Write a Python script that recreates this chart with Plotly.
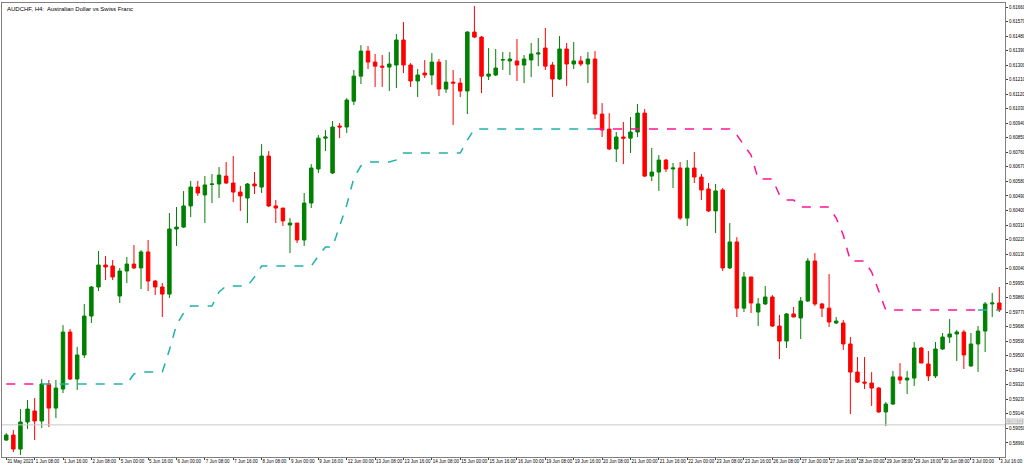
import plotly.graph_objects as go

# AUDCHF H4 bars
open_ = [0.58978, 0.59009, 0.58922, 0.59090, 0.59158, 0.59096, 0.59325, 0.59176, 0.59294, 0.59647,
         0.59356, 0.59505, 0.59746, 0.59926, 0.60062, 0.60056, 0.59870, 0.60025, 0.60068, 0.60044,
         0.60143, 0.59963, 0.59926, 0.59882, 0.60285, 0.60297, 0.60428, 0.60545, 0.60496, 0.60561,
         0.60564, 0.60613, 0.60570, 0.60514, 0.60477, 0.60564, 0.60545, 0.60737, 0.60428, 0.60415,
         0.60310, 0.60322, 0.60217, 0.60446, 0.60657, 0.60848, 0.60632, 0.60923, 0.60917, 0.61077,
         0.61232, 0.61387, 0.61319, 0.61294, 0.61288, 0.61301, 0.61456, 0.61301, 0.61202, 0.61251,
         0.61239, 0.61319, 0.61152, 0.61195, 0.61189, 0.61140, 0.61505, 0.61474, 0.61232, 0.61239,
         0.61332, 0.61326, 0.61326, 0.61301, 0.61332, 0.61369, 0.61406, 0.61301, 0.61214, 0.61400,
         0.61307, 0.61326, 0.61307, 0.61338, 0.60997, 0.60904, 0.60781, 0.60855, 0.60848, 0.60886,
         0.61003, 0.60613, 0.60638, 0.60712, 0.60657, 0.60663, 0.60353, 0.60663, 0.60607, 0.60533,
         0.60397, 0.60527, 0.60044, 0.60205, 0.59795, 0.59988, 0.59771, 0.59821, 0.59864, 0.59684,
         0.59591, 0.59759, 0.59734, 0.59839, 0.60087, 0.59821, 0.59795, 0.59703, 0.59703, 0.59573,
         0.59399, 0.59337, 0.59331, 0.59300, 0.59152, 0.59201, 0.59369, 0.59350, 0.59362, 0.59548,
         0.59449, 0.59375, 0.59542, 0.59616, 0.59635, 0.59647, 0.59437, 0.59573, 0.59653, 0.59821,
         0.59827]
high = [0.59021, 0.59040, 0.59170, 0.59226, 0.59238, 0.59356, 0.59350, 0.59350, 0.59690, 0.59666,
        0.59555, 0.59821, 0.59932, 0.60149, 0.60118, 0.60093, 0.60044, 0.60112, 0.60186, 0.60155,
        0.60217, 0.59969, 0.59951, 0.60384, 0.60421, 0.60520, 0.60583, 0.60583, 0.60613, 0.60625,
        0.60669, 0.60700, 0.60737, 0.60552, 0.60570, 0.60638, 0.60811, 0.60768, 0.60465, 0.60415,
        0.60353, 0.60322, 0.60508, 0.60687, 0.60867, 0.60898, 0.60954, 0.60941, 0.61096, 0.61270,
        0.61424, 0.61418, 0.61369, 0.61363, 0.61381, 0.61493, 0.61567, 0.61313, 0.61276, 0.61332,
        0.61375, 0.61338, 0.61332, 0.61270, 0.61220, 0.61511, 0.61666, 0.61480, 0.61406, 0.61400,
        0.61381, 0.61381, 0.61462, 0.61363, 0.61437, 0.61468, 0.61530, 0.61319, 0.61480, 0.61437,
        0.61443, 0.61356, 0.61381, 0.61387, 0.61065, 0.61003, 0.60886, 0.60948, 0.60979, 0.61059,
        0.61028, 0.60787, 0.60743, 0.60719, 0.60694, 0.60700, 0.60712, 0.60762, 0.60626, 0.60570,
        0.60564, 0.60539, 0.60322, 0.60235, 0.60019, 0.59988, 0.59858, 0.59932, 0.59876, 0.59753,
        0.59765, 0.59802, 0.59864, 0.60105, 0.60136, 0.59827, 0.60006, 0.59740, 0.59722, 0.59616,
        0.59492, 0.59492, 0.59399, 0.59307, 0.59214, 0.59406, 0.59455, 0.59406, 0.59585, 0.59555,
        0.59529, 0.59585, 0.59641, 0.59728, 0.59660, 0.59660, 0.59641, 0.59684, 0.59833, 0.59889,
        0.59926]
low = [0.58972, 0.58903, 0.58885, 0.59047, 0.58978, 0.59053, 0.59059, 0.59114, 0.59269, 0.59350,
       0.59288, 0.59486, 0.59703, 0.59901, 0.59969, 0.59969, 0.59827, 0.59950, 0.60037, 0.59913,
       0.59901, 0.59876, 0.59740, 0.59858, 0.60180, 0.60291, 0.60359, 0.60490, 0.60322, 0.60446,
       0.60477, 0.60564, 0.60452, 0.60397, 0.60322, 0.60502, 0.60508, 0.60421, 0.60322, 0.60304,
       0.60136, 0.60198, 0.60180, 0.60415, 0.60632, 0.60768, 0.60626, 0.60848, 0.60880, 0.61053,
       0.61183, 0.61276, 0.61165, 0.61165, 0.61140, 0.61158, 0.61251, 0.61165, 0.61103, 0.61220,
       0.61177, 0.61109, 0.61128, 0.60929, 0.61103, 0.60997, 0.61468, 0.61127, 0.61208, 0.61232,
       0.61270, 0.61239, 0.61202, 0.61189, 0.61226, 0.61294, 0.61270, 0.61103, 0.61208, 0.61171,
       0.61276, 0.61294, 0.61189, 0.60966, 0.60855, 0.60774, 0.60700, 0.60687, 0.60756, 0.60855,
       0.60607, 0.60582, 0.60521, 0.60638, 0.60539, 0.60341, 0.60304, 0.60570, 0.60465, 0.60390,
       0.60260, 0.60025, 0.60037, 0.59740, 0.59771, 0.59765, 0.59684, 0.59814, 0.59678, 0.59480,
       0.59548, 0.59740, 0.59604, 0.59833, 0.59808, 0.59740, 0.59678, 0.59697, 0.59536, 0.59139,
       0.59331, 0.59294, 0.59189, 0.59146, 0.59065, 0.59195, 0.59325, 0.59263, 0.59313, 0.59455,
       0.59344, 0.59362, 0.59536, 0.59579, 0.59468, 0.59418, 0.59431, 0.59400, 0.59523, 0.59740,
       0.59771]
close = [0.59009, 0.58922, 0.59090, 0.59170, 0.59096, 0.59325, 0.59176, 0.59300, 0.59647, 0.59356,
         0.59505, 0.59746, 0.59926, 0.60062, 0.60050, 0.59988, 0.60025, 0.60068, 0.60044, 0.60143,
         0.59963, 0.59926, 0.59882, 0.60285, 0.60297, 0.60428, 0.60545, 0.60508, 0.60558, 0.60564,
         0.60619, 0.60570, 0.60514, 0.60490, 0.60564, 0.60552, 0.60737, 0.60428, 0.60415, 0.60335,
         0.60322, 0.60217, 0.60446, 0.60663, 0.60848, 0.60855, 0.60917, 0.60917, 0.61084, 0.61232,
         0.61387, 0.61319, 0.61294, 0.61288, 0.61307, 0.61456, 0.61301, 0.61202, 0.61239, 0.61239,
         0.61319, 0.61152, 0.61195, 0.61189, 0.61140, 0.61505, 0.61474, 0.61232, 0.61245, 0.61282,
         0.61334, 0.61338, 0.61301, 0.61338, 0.61369, 0.61375, 0.61294, 0.61214, 0.61400, 0.61307,
         0.61326, 0.61307, 0.61338, 0.60997, 0.60898, 0.60781, 0.60855, 0.60848, 0.60886, 0.61003,
         0.60613, 0.60638, 0.60712, 0.60657, 0.60663, 0.60353, 0.60663, 0.60607, 0.60527, 0.60397,
         0.60521, 0.60044, 0.60205, 0.59795, 0.59988, 0.59827, 0.59821, 0.59864, 0.59684, 0.59591,
         0.59759, 0.59740, 0.59839, 0.60087, 0.59821, 0.59795, 0.59709, 0.59715, 0.59573, 0.59399,
         0.59337, 0.59331, 0.59300, 0.59152, 0.59201, 0.59369, 0.59350, 0.59362, 0.59548, 0.59455,
         0.59375, 0.59542, 0.59616, 0.59635, 0.59647, 0.59505, 0.59573, 0.59653, 0.59821, 0.59827,
         0.59784]

# trend-stop indicator: up (teal) and down (pink) sections
trend_up = ([None] * 5 + [0.59325] * 13 + [0.59387] + [0.59399] * 4 + [0.59536, 0.59691, 0.59765]
            + [0.59808] * 4 + [0.59895] + [0.59932] * 4 + [0.59988] + [0.60056] * 8 + [0.60118]
            + [0.60174] * 2 + [0.60310, 0.60434, 0.60601, 0.60676] + [0.60700] * 4 + [0.60713]
            + [0.60756] * 9 + [0.60836] + [0.60904] * 18 + [None] * 53 + [0.59783] * 4)
trend_down = ([0.59325] * 6 + [None] * 77 + [0.60904] * 20 + [0.60867, 0.60805, 0.60743]
              + [0.60595] * 3 + [0.60496] + [0.60465] * 2 + [0.60422] * 5 + [0.60353, 0.60248]
              + [0.60087] * 3 + [0.60019, 0.59907] + [0.59783] * 14 + [None] * 3)

bid_line = 0.59072

tick_idx = list(range(0, 141, 4))
tick_text = ["31 May 2023", "1 Jun 08:00", "1 Jun 16:00", "2 Jun 08:00", "5 Jun 00:00", "5 Jun 16:00",
             "6 Jun 00:00", "7 Jun 08:00", "7 Jun 16:00", "8 Jun 08:00", "9 Jun 00:00", "9 Jun 16:00",
             "12 Jun 00:00", "13 Jun 08:00", "13 Jun 16:00", "14 Jun 08:00", "15 Jun 00:00", "15 Jun 16:00",
             "16 Jun 00:00", "19 Jun 08:00", "19 Jun 16:00", "20 Jun 08:00", "21 Jun 00:00", "21 Jun 16:00",
             "22 Jun 00:00", "23 Jun 08:00", "23 Jun 16:00", "26 Jun 08:00", "27 Jun 00:00", "27 Jun 16:00",
             "28 Jun 00:00", "29 Jun 08:00", "29 Jun 16:00", "30 Jun 08:00", "3 Jul 00:00", "3 Jul 16:00"]
price_ticks = [round(0.58960 + 0.0009 * k, 5) for k in range(31)]

x = list(range(len(close)))

fig = go.Figure()
fig.add_trace(go.Candlestick(
    x=x, open=open_, high=high, low=low, close=close,
    increasing=dict(line=dict(color="#008000", width=1), fillcolor="#008000"),
    decreasing=dict(line=dict(color="#ff0000", width=1), fillcolor="#ff0000"),
    whiskerwidth=0, showlegend=False))
fig.add_trace(go.Scatter(x=x, y=trend_up, mode="lines", connectgaps=False,
                         line=dict(color="#20b2aa", width=1.5, dash="dash"), showlegend=False))
fig.add_trace(go.Scatter(x=x, y=trend_down, mode="lines", connectgaps=False,
                         line=dict(color="#ff1493", width=1.5, dash="dash"), showlegend=False))

fig.add_hline(y=bid_line, line=dict(color="#c8c8c8", width=1))
fig.add_annotation(x=1.0, xref="paper", y=bid_line, yref="y", xanchor="left", yanchor="bottom",
                   text="0.59072", showarrow=False, bgcolor="#c0c0c0",
                   font=dict(size=4.5, color="white"), borderpad=0)
fig.add_annotation(x=0.003, xref="paper", y=0.997, yref="paper", xanchor="left", yanchor="top",
                   text="AUDCHF, H4:  Australian Dollar vs Swiss Franc", showarrow=False,
                   font=dict(size=6, color="#000000", family="Liberation Sans"))

fig.update_layout(
    width=1024, height=469,
    margin=dict(l=2, r=19, t=3, b=12, autoexpand=False),
    plot_bgcolor="white", paper_bgcolor="white",
    font=dict(family="Liberation Sans Narrow, Liberation Sans", size=4.5, color="#000000"),
    xaxis=dict(range=[-0.6, 140.8], tickmode="array", tickvals=tick_idx, ticktext=tick_text,
               showgrid=False, rangeslider=dict(visible=False), ticks="outside", ticklen=2,
               ticklabelposition="outside right",
               showline=True, linecolor="#808080", mirror=True, tickangle=0, automargin=False),
    yaxis=dict(range=[0.58873, 0.61685], side="right", tickmode="array", tickvals=price_ticks,
               ticktext=[f"{v:.5f}" for v in price_ticks], showgrid=False, ticks="outside",
               ticklen=2, showline=True, linecolor="#808080", mirror=True, automargin=False),
)
fig.write_html("out.html", config={"displayModeBar": False},
               post_script="document.body.style.margin='0';")
